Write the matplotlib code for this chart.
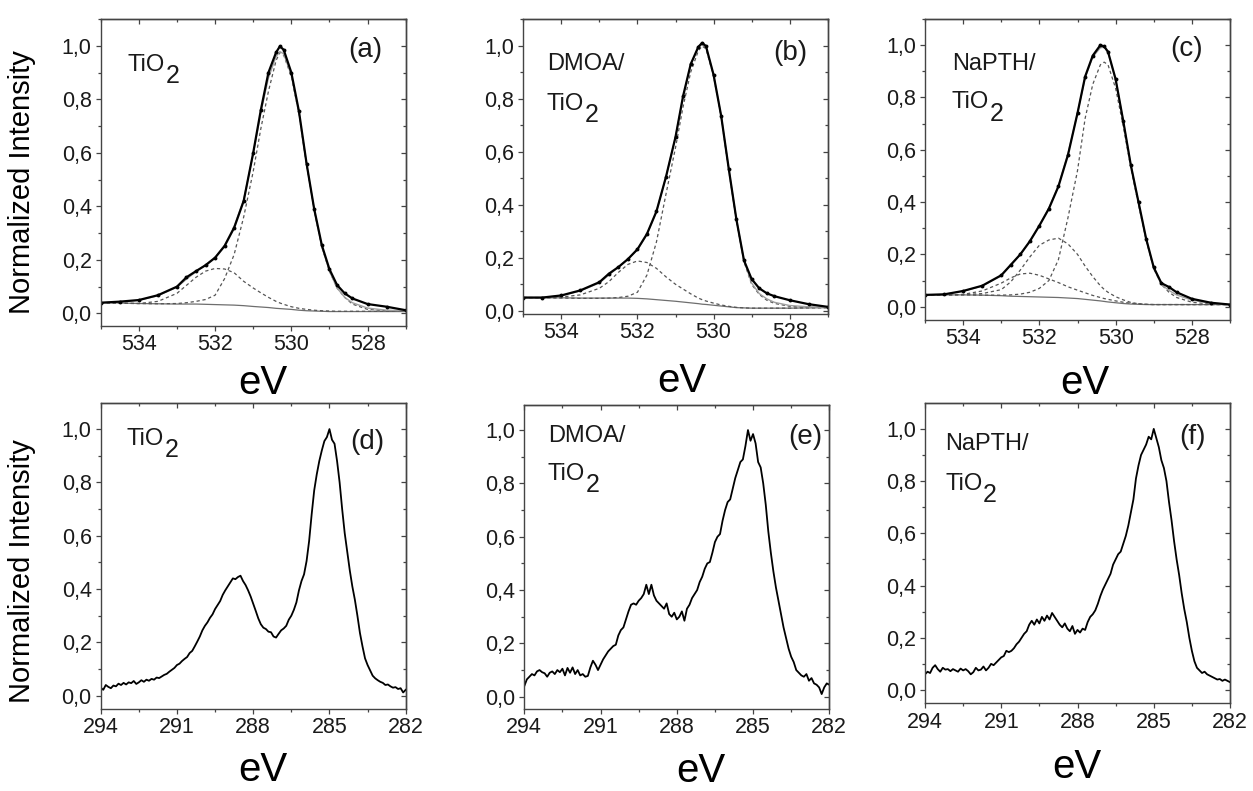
import numpy as np
import matplotlib
matplotlib.use("Agg")
import matplotlib.pyplot as plt
from matplotlib.ticker import MultipleLocator, FuncFormatter

plt.rcParams['font.family'] = ['Liberation Sans', 'DejaVu Sans']

# ---- O 1s spectra (top row), binding energy grid in eV ----
o1s_ev = [535, 534.5, 534, 533.5, 533, 532.75, 532.5, 532.25, 532, 531.75,
          531.5, 531.25, 531, 530.8, 530.6, 530.4, 530.3, 530.2, 530.0, 529.8,
          529.6, 529.4, 529.2, 529.0, 528.8, 528.6, 528.4, 528.0, 527.5, 527.0]

a_data = [0.040, 0.044, 0.050, 0.068, 0.100, 0.135, 0.158, 0.180, 0.208, 0.252,
          0.320, 0.420, 0.600, 0.760, 0.900, 0.975, 0.998, 0.985, 0.900, 0.755,
          0.560, 0.390, 0.255, 0.165, 0.106, 0.075, 0.056, 0.035, 0.025, 0.012]
a_fit = [0.040, 0.043, 0.049, 0.066, 0.098, 0.128, 0.156, 0.182, 0.210, 0.255,
         0.325, 0.425, 0.595, 0.750, 0.880, 0.960, 0.978, 0.970, 0.890, 0.750,
         0.558, 0.388, 0.250, 0.158, 0.095, 0.060, 0.040, 0.020, 0.012, 0.010]
a_main = [0.040, 0.038, 0.037, 0.036, 0.037, 0.040, 0.045, 0.052, 0.068, 0.130,
          0.220, 0.360, 0.530, 0.690, 0.830, 0.945, 0.975, 0.965, 0.885, 0.745,
          0.555, 0.385, 0.248, 0.158, 0.095, 0.060, 0.035, 0.015, 0.010, 0.008]
a_shoulder = [0.040, 0.038, 0.037, 0.045, 0.075, 0.105, 0.135, 0.158, 0.168, 0.166,
              0.152, 0.120, 0.095, 0.077, 0.060, 0.045, 0.039, 0.034, 0.025, 0.019,
              0.015, 0.012, 0.010, 0.009, 0.008, 0.008, 0.008, 0.008, 0.008, 0.008]
a_bg = [0.040, 0.039, 0.037, 0.036, 0.035, 0.035, 0.035, 0.034, 0.033, 0.032,
        0.031, 0.029, 0.026, 0.024, 0.022, 0.019, 0.018, 0.017, 0.015, 0.012,
        0.010, 0.009, 0.008, 0.007, 0.007, 0.007, 0.007, 0.007, 0.007, 0.007]

b_data = [0.050, 0.050, 0.058, 0.077, 0.108, 0.140, 0.165, 0.195, 0.232, 0.290,
          0.375, 0.505, 0.655, 0.810, 0.930, 0.995, 1.010, 0.998, 0.890, 0.735,
          0.535, 0.345, 0.190, 0.120, 0.085, 0.066, 0.055, 0.040, 0.025, 0.015]
b_fit = [0.050, 0.050, 0.057, 0.075, 0.105, 0.135, 0.165, 0.195, 0.230, 0.288,
         0.375, 0.505, 0.655, 0.805, 0.928, 0.992, 1.005, 0.995, 0.890, 0.735,
         0.535, 0.345, 0.190, 0.105, 0.065, 0.045, 0.032, 0.020, 0.015, 0.013]
b_main = [0.050, 0.049, 0.048, 0.047, 0.047, 0.048, 0.050, 0.055, 0.070, 0.135,
          0.260, 0.440, 0.615, 0.770, 0.900, 0.980, 0.998, 0.988, 0.885, 0.730,
          0.530, 0.340, 0.185, 0.100, 0.062, 0.040, 0.028, 0.017, 0.013, 0.012]
b_shoulder = [0.050, 0.050, 0.052, 0.060, 0.085, 0.110, 0.145, 0.175, 0.188, 0.182,
              0.160, 0.128, 0.100, 0.082, 0.064, 0.048, 0.042, 0.037, 0.029, 0.022,
              0.017, 0.013, 0.011, 0.010, 0.010, 0.010, 0.010, 0.010, 0.011, 0.012]
b_bg = [0.050, 0.049, 0.049, 0.048, 0.048, 0.048, 0.048, 0.048, 0.047, 0.045,
        0.042, 0.039, 0.036, 0.033, 0.030, 0.027, 0.025, 0.024, 0.021, 0.018,
        0.015, 0.012, 0.011, 0.010, 0.010, 0.010, 0.010, 0.010, 0.011, 0.012]

c_data = [0.045, 0.047, 0.060, 0.080, 0.120, 0.160, 0.200, 0.250, 0.310, 0.375,
          0.460, 0.580, 0.740, 0.880, 0.960, 1.000, 0.995, 0.975, 0.870, 0.710,
          0.540, 0.400, 0.260, 0.150, 0.090, 0.075, 0.055, 0.030, 0.015, 0.008]
c_fit = [0.045, 0.047, 0.059, 0.079, 0.118, 0.158, 0.200, 0.250, 0.310, 0.378,
         0.462, 0.585, 0.740, 0.875, 0.955, 0.990, 0.992, 0.972, 0.868, 0.710,
         0.540, 0.398, 0.258, 0.148, 0.085, 0.062, 0.045, 0.025, 0.013, 0.008]
c_main = [0.045, 0.045, 0.045, 0.044, 0.044, 0.045, 0.048, 0.055, 0.070, 0.100,
          0.180, 0.340, 0.520, 0.720, 0.850, 0.925, 0.935, 0.925, 0.835, 0.690,
          0.530, 0.390, 0.255, 0.145, 0.085, 0.055, 0.035, 0.017, 0.010, 0.008]
c_comp2 = [0.045, 0.045, 0.046, 0.050, 0.065, 0.095, 0.140, 0.190, 0.235, 0.255,
           0.262, 0.240, 0.200, 0.155, 0.115, 0.080, 0.066, 0.055, 0.038, 0.026,
           0.016, 0.011, 0.009, 0.008, 0.008, 0.008, 0.008, 0.008, 0.008, 0.008]
c_comp3 = [0.045, 0.045, 0.047, 0.060, 0.090, 0.110, 0.125, 0.128, 0.120, 0.106,
           0.092, 0.076, 0.063, 0.053, 0.043, 0.035, 0.031, 0.028, 0.022, 0.017,
           0.013, 0.011, 0.009, 0.008, 0.008, 0.008, 0.008, 0.008, 0.008, 0.008]
c_bg = [0.045, 0.045, 0.045, 0.044, 0.042, 0.040, 0.039, 0.038, 0.037, 0.036,
        0.035, 0.033, 0.031, 0.028, 0.025, 0.022, 0.020, 0.018, 0.015, 0.012,
        0.010, 0.009, 0.008, 0.008, 0.008, 0.008, 0.008, 0.008, 0.008, 0.008]

# ---- C 1s spectra (bottom row), read every 0.1 eV from 294 down to 282 ----
d_c1s = [0.030, 0.022, 0.040, 0.033, 0.028, 0.038, 0.035, 0.045, 0.040, 0.048,
         0.042, 0.050, 0.047, 0.055, 0.044, 0.050, 0.058, 0.052, 0.060, 0.056,
         0.063, 0.060, 0.068, 0.066, 0.072, 0.078, 0.082, 0.090, 0.097, 0.104,
         0.115, 0.120, 0.130, 0.138, 0.145, 0.160, 0.168, 0.185, 0.203, 0.222,
         0.245, 0.262, 0.275, 0.292, 0.305, 0.325, 0.340, 0.355, 0.378, 0.395,
         0.410, 0.425, 0.440, 0.437, 0.445, 0.450, 0.430, 0.415, 0.395, 0.372,
         0.345, 0.318, 0.290, 0.268, 0.255, 0.250, 0.240, 0.238, 0.222, 0.218,
         0.232, 0.245, 0.252, 0.262, 0.285, 0.300, 0.322, 0.350, 0.395, 0.430,
         0.455, 0.505, 0.580, 0.680, 0.770, 0.830, 0.880, 0.920, 0.955, 0.970,
         1.000, 0.960, 0.945, 0.880, 0.800, 0.700, 0.610, 0.540, 0.470, 0.410,
         0.360, 0.300, 0.235, 0.185, 0.140, 0.115, 0.095, 0.075, 0.065, 0.058,
         0.052, 0.048, 0.040, 0.042, 0.035, 0.030, 0.032, 0.025, 0.028, 0.012,
         0.022]
e_c1s = [0.040, 0.065, 0.075, 0.085, 0.080, 0.095, 0.100, 0.092, 0.088, 0.075,
         0.090, 0.095, 0.085, 0.100, 0.092, 0.105, 0.080, 0.108, 0.090, 0.110,
         0.085, 0.100, 0.080, 0.085, 0.075, 0.078, 0.110, 0.135, 0.120, 0.100,
         0.120, 0.140, 0.155, 0.170, 0.180, 0.190, 0.195, 0.230, 0.250, 0.260,
         0.290, 0.320, 0.345, 0.350, 0.345, 0.360, 0.370, 0.385, 0.420, 0.385,
         0.420, 0.380, 0.360, 0.350, 0.340, 0.330, 0.350, 0.310, 0.300, 0.315,
         0.290, 0.300, 0.320, 0.285, 0.330, 0.345, 0.370, 0.385, 0.400, 0.430,
         0.450, 0.480, 0.500, 0.505, 0.540, 0.580, 0.600, 0.610, 0.660, 0.700,
         0.730, 0.740, 0.780, 0.820, 0.850, 0.880, 0.890, 0.940, 1.000, 0.960,
         0.985, 0.950, 0.880, 0.860, 0.800, 0.720, 0.620, 0.540, 0.470, 0.410,
         0.360, 0.310, 0.260, 0.220, 0.180, 0.150, 0.130, 0.100, 0.090, 0.080,
         0.075, 0.085, 0.060, 0.070, 0.050, 0.045, 0.035, 0.010, 0.035, 0.050,
         0.045]
f_c1s = [0.060, 0.070, 0.065, 0.085, 0.095, 0.080, 0.070, 0.085, 0.078, 0.080,
         0.072, 0.080, 0.075, 0.070, 0.082, 0.075, 0.080, 0.072, 0.060, 0.068,
         0.085, 0.075, 0.078, 0.090, 0.075, 0.085, 0.100, 0.095, 0.105, 0.115,
         0.125, 0.130, 0.150, 0.145, 0.150, 0.160, 0.175, 0.185, 0.200, 0.215,
         0.225, 0.250, 0.265, 0.250, 0.270, 0.255, 0.280, 0.265, 0.285, 0.270,
         0.295, 0.280, 0.265, 0.250, 0.240, 0.255, 0.235, 0.225, 0.245, 0.215,
         0.230, 0.220, 0.235, 0.230, 0.260, 0.280, 0.290, 0.305, 0.330, 0.360,
         0.385, 0.405, 0.425, 0.445, 0.480, 0.500, 0.520, 0.530, 0.560, 0.590,
         0.630, 0.680, 0.730, 0.810, 0.860, 0.900, 0.920, 0.940, 0.970, 0.960,
         1.000, 0.965, 0.930, 0.880, 0.850, 0.800, 0.720, 0.650, 0.570, 0.500,
         0.440, 0.370, 0.310, 0.260, 0.200, 0.150, 0.110, 0.085, 0.075, 0.065,
         0.070, 0.060, 0.055, 0.050, 0.045, 0.040, 0.042, 0.035, 0.040, 0.035,
         0.030]

panel_tags = ['(a)', '(b)', '(c)', '(d)', '(e)', '(f)']
sample_lines = [[], ['DMOA/'], ['NaPTH/'], [], ['DMOA/'], ['NaPTH/']]

# ---- layout (pixels of the 1253x791 canvas) ----
W, H = 1253, 791
fig = plt.figure(figsize=(W / 100, H / 100), dpi=100)
frame = '#444444'


def fx(x):
    return x / W


def fy(y):
    return 1 - y / H


def comma(v, pos):
    return f"{v:.1f}".replace('.', ',')


boxes = [(100.7, 19, 405.7, 326), (523.3, 19, 827.7, 314), (925, 19, 1230, 320),
         (100.7, 402.7, 405.7, 709), (524.3, 405, 829.3, 709), (925, 403.3, 1230, 703.3)]
ylims = [(-0.047, 1.1), (-0.012, 1.1), (-0.051, 1.1),
         (-0.05, 1.099), (-0.046, 1.094), (-0.051, 1.098)]
tag_pos = [(348, 57), (773, 60), (1170, 56), (350, 449), (788, 444), (1179, 444)]
label_pos = [(128, [70.7]), (546.7, [70, 110]), (951.7, [70, 108.3]),
             (126.7, [445]), (548, [441.7, 480]), (945, [450, 490])]
ev_pos = [(263, 394), (682, 392), (1085, 394), (263, 781), (701, 782), (1077, 778)]

axes = []
for i, (l, t, r, b) in enumerate(boxes):
    ax = fig.add_axes([fx(l), fy(b), (r - l) / W, (b - t) / H])
    top_row = i < 3
    if top_row:
        ax.set_xlim(535, 527)
        major, minor = 2, 1
    else:
        ax.set_xlim(294, 282)
        major, minor = 3, 1.5
    ax.set_ylim(*ylims[i])
    ax.xaxis.set_major_locator(MultipleLocator(major))
    ax.xaxis.set_minor_locator(MultipleLocator(minor))
    ax.yaxis.set_major_locator(MultipleLocator(0.2))
    ax.yaxis.set_minor_locator(MultipleLocator(0.1))
    ax.yaxis.set_major_formatter(FuncFormatter(comma))
    ax.tick_params(which='both', direction='out', color=frame, width=0.9,
                   labelsize=15.5, labelcolor='#1a1a1a')
    ax.tick_params(which='major', length=3.5)
    ax.tick_params(which='minor', length=2)
    ax.tick_params(axis='y', pad=3)
    ax.tick_params(axis='x', pad=2.5)
    for sp in ax.spines.values():
        sp.set_color(frame)
        sp.set_linewidth(1.0)
    # mirrored inward ticks on top and right
    sx = ax.secondary_xaxis('top')
    sx.xaxis.set_major_locator(MultipleLocator(major))
    sx.xaxis.set_minor_locator(MultipleLocator(minor))
    sx.tick_params(which='both', direction='in', color=frame, width=0.9,
                   labeltop=False, labelbottom=False)
    sx.tick_params(which='major', length=3.5)
    sx.tick_params(which='minor', length=2)
    sy = ax.secondary_yaxis('right')
    sy.yaxis.set_major_locator(MultipleLocator(0.2))
    sy.yaxis.set_minor_locator(MultipleLocator(0.1))
    sy.tick_params(which='both', direction='in', color=frame, width=0.9,
                   labelright=False, labelleft=False)
    sy.tick_params(which='major', length=3.5)
    sy.tick_params(which='minor', length=2)
    for s in (sx, sy):
        for sp in s.spines.values():
            sp.set_color(frame)
            sp.set_linewidth(1.0)
    axes.append(ax)

dash = dict(color='#555555', lw=0.9, dashes=(2.6, 2.2))

fits = [
    (a_data, a_fit, [a_main, a_shoulder], a_bg),
    (b_data, b_fit, [b_main, b_shoulder], b_bg),
    (c_data, c_fit, [c_main, c_comp2, c_comp3], c_bg),
]
for ax, (data, fit, comps, bg) in zip(axes[:3], fits):
    ax.plot(o1s_ev, bg, color='#6e6e6e', lw=0.9)
    for comp in comps:
        ax.plot(o1s_ev, comp, **dash)
    ax.plot(o1s_ev, fit, color='#a0a0a0', lw=1.0)
    ax.plot(o1s_ev, data, color='black', lw=1.6, marker='o', ms=2.8,
            markeredgewidth=0)

for ax, spec in zip(axes[3:], [d_c1s, e_c1s, f_c1s]):
    ev = np.linspace(294, 282, len(spec))
    ax.plot(ev, spec, color='black', lw=1.3)

# ---- texts ----
for i in range(6):
    x0, baselines = label_pos[i]
    for line, yb in zip(sample_lines[i], baselines):
        fig.text(fx(x0), fy(yb), line, fontsize=17, ha='left', va='baseline',
                 color='#1a1a1a')
    tio = fig.text(fx(x0), fy(baselines[-1]), 'TiO', fontsize=17, ha='left',
                   va='baseline', color='#1a1a1a')
    # subscript 2 placed just right of the "TiO" box, dropped below baseline
    plt.annotate('2', xy=(1.0, 0.0), xycoords=tio, xytext=(0.3, -5.2),
                 textcoords='offset points', fontsize=18, ha='left',
                 va='baseline', color='#1a1a1a', annotation_clip=False)
    tx, ty = tag_pos[i]
    fig.text(fx(tx), fy(ty), panel_tags[i], fontsize=20, ha='left',
             va='baseline', color='#1a1a1a')
    ex, ey = ev_pos[i]
    fig.text(fx(ex), fy(ey), 'eV', fontsize=29, ha='center', va='baseline',
             color='black')

fig.text(fx(22), fy(182), 'Normalized Intensity', fontsize=21, rotation=90,
         ha='center', va='center', color='black')
fig.text(fx(22), fy(571), 'Normalized Intensity', fontsize=21, rotation=90,
         ha='center', va='center', color='black')

fig.savefig('out.png', dpi=100)
